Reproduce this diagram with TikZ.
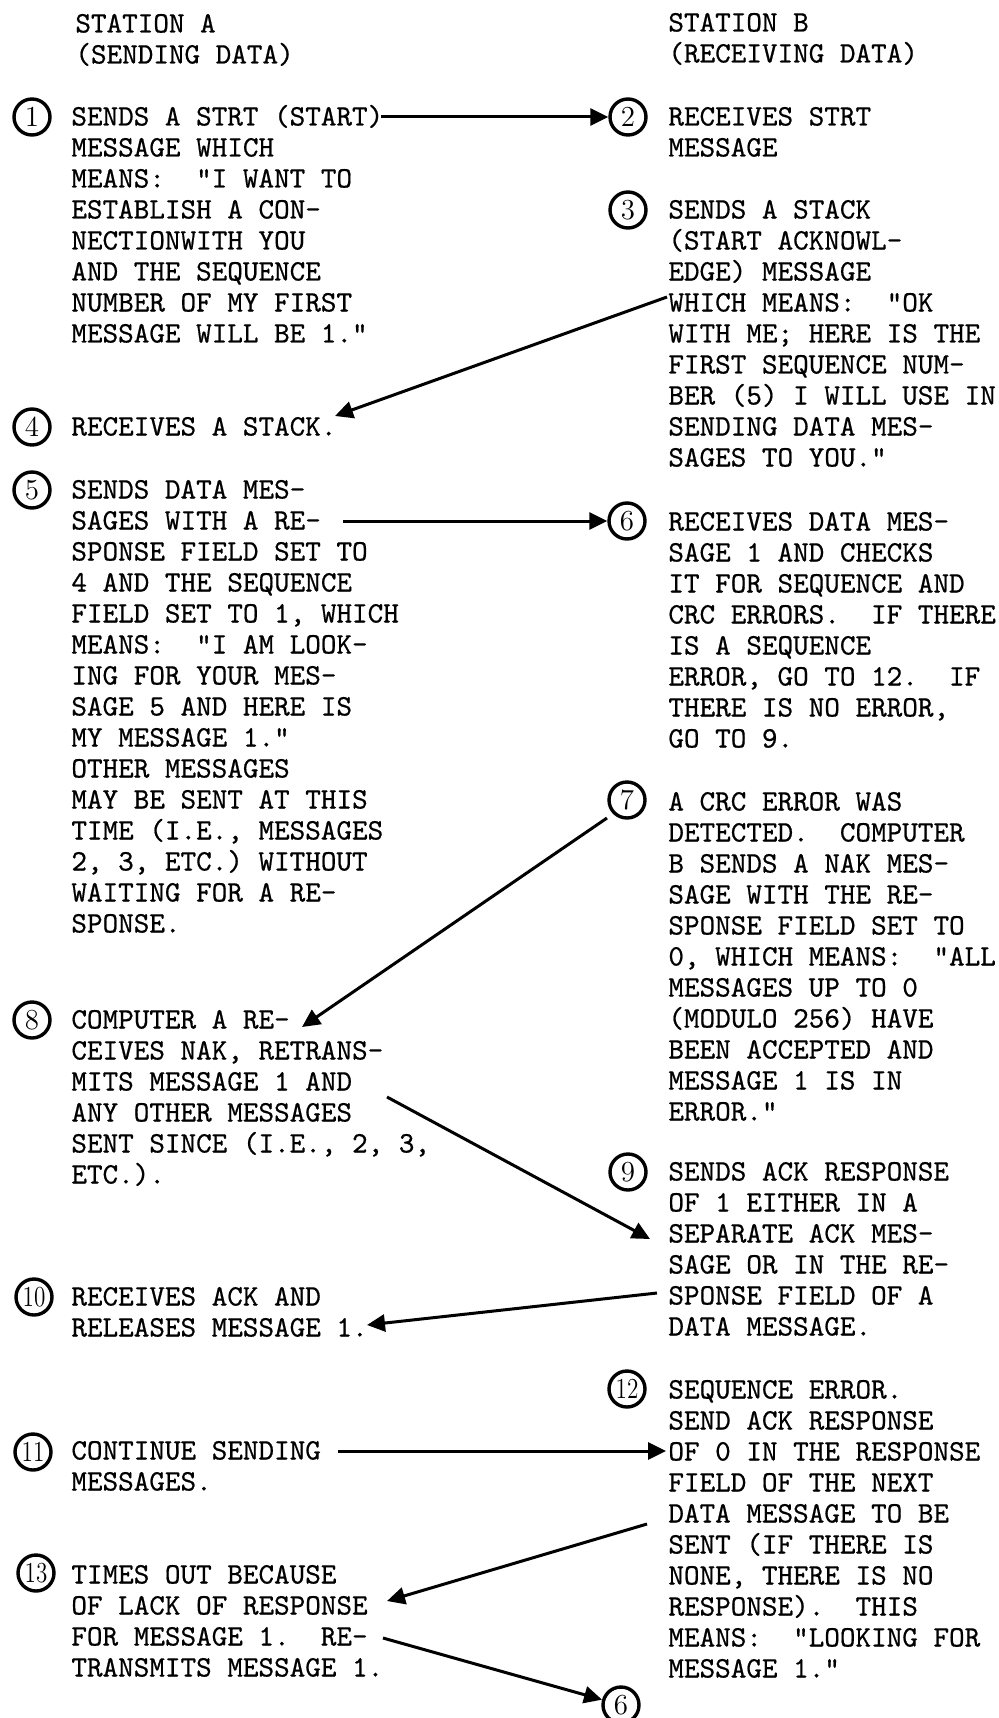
\documentclass[tikz,border=0pt]{standalone}
\usepackage{graphicx}
\usepackage{fontspec}
\newfontfamily\tw{lmmono10-regular}[Extension=.otf, FakeBold=0.6]
\usetikzlibrary{arrows.meta}
\newcommand\Lines[1]{\vtop{\baselineskip=15.5pt\lineskiplimit=-100pt\let\\\cr\halign{##\hfil\cr#1\crcr}}}
\tikzset{
  circ/.style={circle, draw, line width=1.7pt, minimum size=18pt, inner sep=0pt, font=\fontsize{14.5}{14.5}\selectfont},
  txt/.style={anchor=base west, inner sep=0pt, font=\fontsize{14.85}{15.5}\selectfont\tw\frenchspacing},
  arr/.style={line width=1.5pt, -{Triangle[length=9pt,width=8.5pt]}}
}
\begin{document}
\begin{tikzpicture}[x=0.5pt,y=-0.5pt]
\fill[white] (0,0) rectangle (999,1718);
\useasboundingbox (0,0) rectangle (999,1718);
% headers
\node[txt] (hA) at (75,32.5) {\Lines{STATION A\\(SENDING DATA)}};
\node[txt] (hB) at (668,31.5) {\Lines{STATION B\\(RECEIVING DATA)}};
% circles
\node[circ] (c1) at (32,117) {1};
\node[circ] (c2) at (628,117) {2};
\node[circ] (c3) at (628,210) {3};
\node[circ] (c4) at (32,427) {4};
\node[circ] (c5) at (32,490) {5};
\node[circ] (c6) at (627,521) {6};
\node[circ] (c7) at (627,800) {7};
\node[circ] (c8) at (32,1020) {8};
\node[circ] (c9) at (628,1172) {9};
\node[circ] (c10) at (34,1297) {\scalebox{0.8}[1]{10}};
\node[circ] (c11) at (33,1452) {\scalebox{0.8}[1]{11}};
\node[circ] (c12) at (627,1389) {\scalebox{0.8}[1]{12}};
\node[circ] (c13) at (36,1573) {\scalebox{0.8}[1]{13}};
\node[circ] (c6b) at (621,1705) {6};
% left texts
\node[txt] (t1) at (71,125.5) {\Lines{SENDS A STRT (START)\\MESSAGE WHICH\\MEANS:~ "I WANT TO\\ESTABLISH A CON-\\NECTIONWITH YOU\\AND THE SEQUENCE\\NUMBER OF MY FIRST\\MESSAGE WILL BE 1."}};
\node[txt] (t4) at (71,435.5) {\Lines{RECEIVES A STACK.}};
\node[txt] (t5) at (71,498.5) {\Lines{SENDS DATA MES-\\SAGES WITH A RE-\\SPONSE FIELD SET TO\\4 AND THE SEQUENCE\\FIELD SET TO 1, WHICH\\MEANS:~ "I AM LOOK-\\ING FOR YOUR MES-\\SAGE 5 AND HERE IS\\MY MESSAGE 1."\\OTHER MESSAGES\\MAY BE SENT AT THIS\\TIME (I.E., MESSAGES\\2, 3, ETC.) WITHOUT\\WAITING FOR A RE-\\SPONSE.}};
\node[txt] (t8) at (71,1028.5) {\Lines{COMPUTER A RE-\\CEIVES NAK, RETRANS-\\MITS MESSAGE 1 AND\\ANY OTHER MESSAGES\\SENT SINCE (I.E., 2, 3,\\ETC.).}};
\node[txt] (t10) at (71,1305.5) {\Lines{RECEIVES ACK AND\\RELEASES MESSAGE 1.}};
\node[txt] (t11) at (71,1459.5) {\Lines{CONTINUE SENDING\\MESSAGES.}};
\node[txt] (t13) at (71,1583.5) {\Lines{TIMES OUT BECAUSE\\OF LACK OF RESPONSE\\FOR MESSAGE 1.~ RE-\\TRANSMITS MESSAGE 1.}};
% right texts
\node[txt] (t2) at (668,125.5) {\Lines{RECEIVES STRT\\MESSAGE}};
\node[txt] (t3) at (668,218.5) {\Lines{SENDS A STACK\\(START ACKNOWL-\\EDGE) MESSAGE\\WHICH MEANS:~ "OK\\WITH ME; HERE IS THE\\FIRST SEQUENCE NUM-\\BER (5) I WILL USE IN\\SENDING DATA MES-\\SAGES TO YOU."}};
\node[txt] (t6) at (668,530.5) {\Lines{RECEIVES DATA MES-\\SAGE 1 AND CHECKS\\IT FOR SEQUENCE AND\\CRC ERRORS.~ IF THERE\\IS A SEQUENCE\\ERROR, GO TO 12.~ IF\\THERE IS NO ERROR,\\GO TO 9.}};
\node[txt] (t7) at (668,810.5) {\Lines{A CRC ERROR WAS\\DETECTED.~ COMPUTER\\B SENDS A NAK MES-\\SAGE WITH THE RE-\\SPONSE FIELD SET TO\\0, WHICH MEANS:~ "ALL\\MESSAGES UP TO 0\\(MODULO 256) HAVE\\BEEN ACCEPTED AND\\MESSAGE 1 IS IN\\ERROR."}};
\node[txt] (t9) at (668,1180.5) {\Lines{SENDS ACK RESPONSE\\OF 1 EITHER IN A\\SEPARATE ACK MES-\\SAGE OR IN THE RE-\\SPONSE FIELD OF A\\DATA MESSAGE.}};
\node[txt] (t12) at (668,1398.5) {\Lines{SEQUENCE ERROR.\\SEND ACK RESPONSE\\OF 0 IN THE RESPONSE\\FIELD OF THE NEXT\\DATA MESSAGE TO BE\\SENT (IF THERE IS\\NONE, THERE IS NO\\RESPONSE).~ THIS\\MEANS:~ "LOOKING FOR\\MESSAGE 1."}};
% connector ends
\coordinate (a1s) at (381,117);
\coordinate (a3s) at (667,297);
\coordinate (a3e) at (335,416);
\coordinate (a5s) at (343,521);
\coordinate (a7s) at (607,818);
\coordinate (a7e) at (302,1027);
\coordinate (a8s) at (387,1097);
\coordinate (a8e) at (650,1239);
\coordinate (a9s) at (657,1293);
\coordinate (a9e) at (367,1325);
\coordinate (a11s) at (338,1451);
\coordinate (a11e) at (666,1451);
\coordinate (a12s) at (647,1524);
\coordinate (a12e) at (387,1601);
\coordinate (a13s) at (383,1638);
% connectors
\draw[arr] (a1s) -- (c2);
\draw[arr] (a3s) -- (a3e);
\draw[arr] (a5s) -- (c6);
\draw[arr] (a7s) -- (a7e);
\draw[arr] (a8s) -- (a8e);
\draw[arr] (a9s) -- (a9e);
\draw[arr] (a11s) -- (a11e);
\draw[arr] (a12s) -- (a12e);
\draw[arr] (a13s) -- (c6b);
\end{tikzpicture}
\end{document}
